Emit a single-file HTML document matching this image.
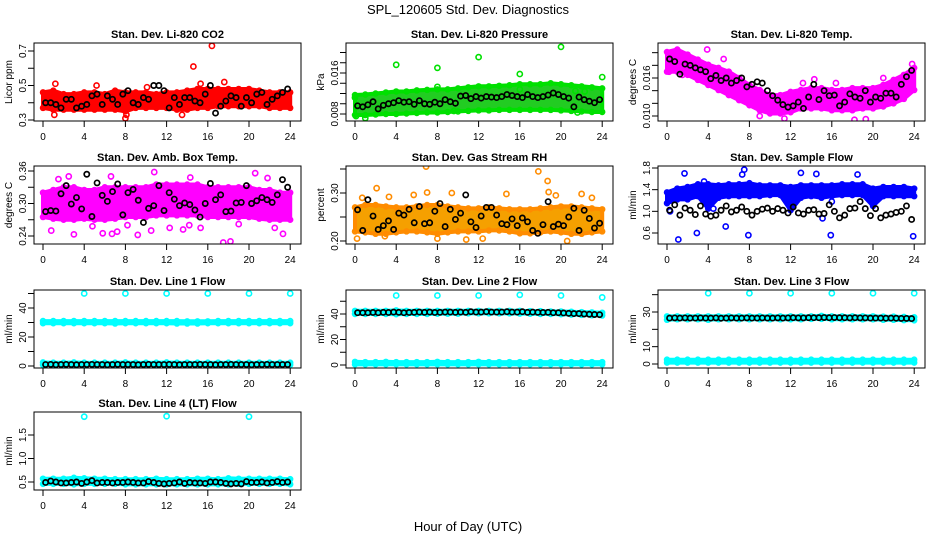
<!DOCTYPE html>
<html><head><meta charset="utf-8"><style>
html,body{margin:0;padding:0;background:#fff;}
svg{display:block;font-family:"Liberation Sans",sans-serif;}
</style></head><body>
<svg id="chart" width="936" height="540" viewBox="0 0 936 540" xmlns="http://www.w3.org/2000/svg">
<text x="468" y="14" text-anchor="middle" font-size="13">SPL_120605  Std. Dev. Diagnostics</text>
<text x="468" y="531" text-anchor="middle" font-size="13">Hour of Day (UTC)</text>
</svg>
<script>
// ---- data (hourly envelopes: 25 values at 0..24 h; black series: half-hourly) ----
const hoursTicks = [0,4,8,12,16,20,24];

const co2Hi = [0.46,0.47,0.45,0.45,0.46,0.46,0.45,0.47,0.46,0.46,0.46,0.45,0.46,0.46,0.47,0.48,0.48,0.48,0.48,0.48,0.48,0.47,0.46,0.46,0.46];
const co2Lo = [0.37,0.36,0.36,0.36,0.36,0.36,0.36,0.36,0.35,0.37,0.37,0.37,0.37,0.36,0.36,0.37,0.37,0.38,0.38,0.38,0.38,0.38,0.37,0.37,0.37];
const co2OutT = [1.2,5.2,8.0,8.1,14.6,16.4,15.3,17.6,1.1,13.5,10.1];
const co2OutV = [0.51,0.50,0.31,0.33,0.61,0.73,0.51,0.52,0.33,0.33,0.49];
const co2Black = [0.40,0.40,0.39,0.37,0.42,0.42,0.37,0.38,0.39,0.44,0.45,0.39,0.44,0.42,0.39,0.45,0.47,0.40,0.39,0.43,0.42,0.50,0.50,0.47,0.37,0.43,0.39,0.43,0.43,0.41,0.40,0.45,0.50,0.34,0.38,0.41,0.44,0.43,0.38,0.43,0.40,0.45,0.46,0.39,0.42,0.44,0.46,0.48];

const presHi = [0.0117,0.0118,0.0120,0.0122,0.0124,0.0124,0.0126,0.0127,0.0128,0.0128,0.0130,0.0132,0.0134,0.0134,0.0135,0.0136,0.0138,0.0138,0.0138,0.0140,0.0138,0.0136,0.0134,0.0132,0.0130];
const presLo = [0.0078,0.0078,0.0079,0.0080,0.0080,0.0081,0.0082,0.0083,0.0083,0.0084,0.0085,0.0086,0.0087,0.0087,0.0088,0.0088,0.0088,0.0088,0.0088,0.0088,0.0087,0.0086,0.0085,0.0084,0.0084];
const presOutT = [0,4,8,8,12,16,16,20,21.4,22.3,24,0.1,1,9.6,21.6];
const presOutV = [0.0112,0.0176,0.0170,0.0133,0.0191,0.0158,0.0128,0.0211,0.0125,0.0124,0.0152,0.0076,0.0072,0.0086,0.0083];
const presBlack = [0.0096,0.0094,0.0098,0.0104,0.0090,0.0097,0.0100,0.0102,0.0106,0.0103,0.0104,0.0099,0.0106,0.0100,0.0099,0.0103,0.0100,0.0108,0.0104,0.0101,0.0115,0.0116,0.0110,0.0114,0.0111,0.0114,0.0113,0.0112,0.0114,0.0118,0.0116,0.0114,0.0112,0.0118,0.0114,0.0112,0.0114,0.0117,0.0121,0.0118,0.0114,0.0111,0.0094,0.0113,0.0108,0.0105,0.0102,0.0108];

const tempHi = [0.0201,0.0205,0.0197,0.0189,0.0181,0.0176,0.0170,0.0160,0.0149,0.0141,0.0133,0.0133,0.0138,0.0141,0.0144,0.0144,0.0141,0.0141,0.0144,0.0144,0.0144,0.0149,0.0157,0.0165,0.0176];
const tempLo = [0.0170,0.0170,0.0165,0.0157,0.0149,0.0141,0.0133,0.0125,0.0117,0.0109,0.0104,0.0104,0.0106,0.0112,0.0112,0.0112,0.0109,0.0109,0.0109,0.0112,0.0112,0.0115,0.0120,0.0127,0.0141];
const tempOutT = [0.2,1.5,3.9,5.5,10.3,11.4,13.2,14.3,16.4,18.2,19.3,21.0,23.8,9.0];
const tempOutV = [0.0170,0.0165,0.0205,0.0190,0.0128,0.0096,0.0152,0.0158,0.0152,0.0094,0.0095,0.0160,0.0182,0.0100];
const tempBlack = [0.0190,0.0186,0.0166,0.0182,0.0180,0.0176,0.0173,0.0170,0.0159,0.0164,0.0156,0.0160,0.0152,0.0156,0.0160,0.0146,0.0150,0.0154,0.0152,0.0140,0.0132,0.0125,0.0118,0.0114,0.0116,0.0122,0.0112,0.0130,0.0150,0.0126,0.0140,0.0132,0.0133,0.0116,0.0122,0.0135,0.0130,0.0128,0.0140,0.0122,0.0130,0.0128,0.0136,0.0136,0.0130,0.0150,0.0162,0.0172];

const boxHi = [0.320,0.325,0.330,0.330,0.325,0.325,0.330,0.330,0.330,0.330,0.330,0.335,0.335,0.335,0.335,0.335,0.330,0.330,0.330,0.330,0.330,0.325,0.325,0.320,0.320];
const boxLo = [0.275,0.272,0.270,0.270,0.272,0.270,0.270,0.272,0.275,0.275,0.275,0.278,0.278,0.278,0.278,0.278,0.275,0.275,0.275,0.275,0.275,0.272,0.270,0.270,0.270];
const boxOutT = [0.8,3.0,4.8,5.8,6.7,7.2,9.2,10.5,10.8,12.3,13.6,14.3,15.3,17.5,18.2,20.6,21.8,23.3,2.5,6.6,22.5,14.2,8.2,1.5,19.0];
const boxOutV = [0.250,0.243,0.258,0.245,0.244,0.248,0.242,0.250,0.358,0.255,0.252,0.348,0.255,0.228,0.230,0.356,0.347,0.244,0.350,0.350,0.255,0.260,0.260,0.345,0.262];
const boxBlack = [0.285,0.287,0.286,0.318,0.333,0.299,0.311,0.290,0.354,0.276,0.338,0.315,0.304,0.322,0.336,0.279,0.320,0.326,0.306,0.265,0.291,0.296,0.333,0.287,0.320,0.308,0.296,0.301,0.298,0.288,0.275,0.300,0.337,0.307,0.316,0.285,0.286,0.301,0.302,0.333,0.300,0.305,0.311,0.307,0.302,0.316,0.344,0.330];

const rhHi = [0.270,0.275,0.275,0.272,0.270,0.270,0.272,0.275,0.275,0.272,0.270,0.268,0.268,0.270,0.268,0.266,0.266,0.266,0.268,0.270,0.272,0.272,0.270,0.268,0.266];
const rhLo = [0.220,0.218,0.215,0.215,0.218,0.220,0.220,0.218,0.215,0.218,0.220,0.220,0.220,0.222,0.222,0.220,0.216,0.216,0.218,0.220,0.218,0.215,0.215,0.218,0.220];
const rhOutT = [0.2,0.7,2.1,3.3,5.7,6.9,7.0,9.4,10.8,14.7,17.8,18.7,18.8,20.6,22.0,2.9,12.4,8.0,19.5,23.0];
const rhOutV = [0.205,0.290,0.310,0.292,0.296,0.355,0.301,0.300,0.203,0.298,0.345,0.325,0.302,0.200,0.298,0.210,0.205,0.205,0.295,0.290];
const rhBlack = [0.265,0.222,0.286,0.252,0.224,0.232,0.242,0.224,0.258,0.254,0.266,0.238,0.272,0.236,0.238,0.262,0.278,0.230,0.266,0.245,0.258,0.296,0.240,0.228,0.252,0.270,0.270,0.254,0.236,0.234,0.246,0.232,0.248,0.240,0.222,0.216,0.234,0.282,0.230,0.235,0.232,0.250,0.268,0.222,0.264,0.247,0.227,0.237];

const flowHi = [1.35,1.42,1.45,1.50,1.50,1.48,1.50,1.50,1.52,1.48,1.48,1.48,1.45,1.48,1.48,1.48,1.48,1.50,1.50,1.50,1.42,1.45,1.45,1.45,1.42];
const flowLo = [1.15,1.22,1.22,1.28,1.05,1.25,1.28,1.28,1.28,1.28,1.30,1.30,1.02,1.25,1.28,1.25,1.28,1.30,1.30,1.30,1.10,1.28,1.28,1.28,1.28];
const flowOutT = [1.1,1.7,2.9,3.6,5.7,7.3,7.5,7.9,13.0,14.5,15.1,15.9,16.0,18.5,23.9,0.3,4.5];
const flowOutV = [0.48,1.70,0.60,1.55,0.72,1.68,1.77,0.56,1.71,1.69,0.87,0.56,1.18,1.68,0.54,1.00,1.05];
const flowBlack = [1.02,1.12,0.93,1.06,1.02,0.94,1.10,0.95,0.91,0.93,1.02,1.10,0.99,1.02,1.08,1.00,0.93,1.00,1.04,1.06,1.00,1.05,1.02,0.97,1.08,0.97,0.95,1.02,1.03,0.95,0.96,1.12,1.00,0.88,0.93,1.05,1.06,1.18,1.05,0.92,1.05,0.88,0.93,0.95,0.98,1.00,1.10,0.85];

const l1Hi = [31.0,31.0,31.0,31.0,31.0,31.0,31.0,31.0,31.0,31.0,31.0,31.0,31.0,31.0,30.8,30.8,30.8,31.0,31.0,31.0,31.0,31.0,31.0,31.0,31.0];
const l1Lo = [29.5,29.5,29.5,29.5,29.5,29.5,29.5,29.3,29.5,29.5,29.5,29.5,29.5,29.3,29.3,29.3,29.5,29.5,29.5,29.5,29.5,29.5,29.5,29.5,29.5];
const l1LowHi = [2.5,2.3,2.3,2.5,2.3,2.3,2.3,2.3,2.5,2.3,2.3,2.3,2.5,2.3,2.3,2.3,2.3,2.3,2.3,2.3,2.3,2.3,2.3,2.3,2.3];
const l1LowLo = [0.8,0.8,0.8,0.8,0.8,0.8,0.8,0.8,0.8,0.8,0.8,0.8,0.8,0.8,0.8,0.8,0.8,0.8,0.8,0.8,0.8,0.8,0.8,0.8,0.8];
const l1OutT = [4,8,12,16,20,24];
const l1OutV = [50,50,50,50,50,50];
const l1Black = [1.0,1.1,0.9,1.0,1.1,1.0,0.9,1.0,1.0,1.1,1.0,1.0,0.9,1.0,1.1,1.0,1.0,1.0,0.9,1.0,1.1,1.0,1.0,1.0,1.1,1.0,0.9,1.0,1.0,1.0,1.1,1.0,1.0,0.9,1.0,1.0,1.1,1.0,1.0,1.0,0.9,1.0,1.0,1.1,1.0,1.0,1.0,1.0];

const l2Hi = [42.5,42.5,42.5,42.5,42.8,42.5,42.5,42.5,42.5,42.5,42.5,42.5,42.5,42.5,42.5,42.5,42.5,42.3,42.3,42.0,42.0,41.8,41.5,41.3,41.0];
const l2Lo = [40.0,40.0,40.0,40.0,39.8,40.0,40.0,40.0,40.2,40.2,40.2,40.5,40.5,40.5,40.5,40.5,40.3,40.2,40.0,40.0,39.8,39.5,39.3,39.0,38.8];
const l2LowHi = [2.5,2.3,2.3,2.5,2.3,2.3,2.3,2.3,2.5,2.3,2.3,2.3,2.5,2.3,2.3,2.3,2.3,2.3,2.3,2.3,2.3,2.3,2.3,2.3,2.3];
const l2LowLo = [0.5,0.5,0.5,0.5,0.5,0.5,0.5,0.5,0.5,0.5,0.5,0.5,0.5,0.5,0.5,0.5,0.5,0.5,0.5,0.5,0.5,0.5,0.5,0.5,0.5];
const l2OutT = [4,8,12,16,20,24];
const l2OutV = [54.5,54.5,54.5,55.0,54.5,53.0];
const l2Black = [41.0,41.0,41.0,41.2,41.0,41.3,41.2,41.5,41.3,41.0,41.2,41.3,41.5,41.3,41.5,41.2,41.3,41.5,41.5,41.3,41.5,41.3,41.8,41.5,41.5,41.8,41.5,41.5,41.5,41.8,41.5,41.5,41.8,41.3,41.5,41.3,41.2,41.3,41.0,41.0,40.8,40.5,40.3,40.3,40.0,39.8,39.6,39.5];

const l3Hi = [27.5,27.5,27.5,27.5,27.5,27.5,27.5,27.5,27.5,27.5,27.5,27.5,27.5,27.5,27.5,27.8,27.5,27.5,27.5,27.5,27.5,27.3,27.3,27.2,27.0];
const l3Lo = [25.5,25.8,25.8,25.8,25.5,25.8,25.8,25.8,25.8,25.8,25.8,25.8,25.8,25.8,26.0,26.0,25.8,25.8,25.8,25.8,25.8,25.5,25.5,25.3,25.2];
const l3LowHi = [2.5,2.5,2.5,2.5,2.5,2.5,2.5,2.5,2.5,2.5,2.5,2.5,2.5,2.5,2.5,2.5,2.5,2.5,2.5,2.5,2.5,2.5,2.5,2.5,2.5];
const l3LowLo = [0.8,0.8,0.8,0.8,0.8,0.8,0.8,0.8,0.8,0.8,0.8,0.8,0.8,0.8,0.8,0.8,0.8,0.8,0.8,0.8,0.8,0.8,0.8,0.8,0.8];
const l3OutT = [4,8,12,16,20,24];
const l3OutV = [40.8,40.8,40.8,40.8,40.8,40.8];
const l3Black = [26.5,26.6,26.5,26.6,26.5,26.5,26.6,26.5,26.5,26.6,26.4,26.5,26.6,26.5,26.5,26.6,26.5,26.5,26.6,26.5,26.5,26.6,26.5,26.6,26.7,26.6,26.6,26.7,26.7,26.7,26.8,26.7,26.8,26.7,26.7,26.6,26.7,26.6,26.6,26.5,26.5,26.5,26.4,26.5,26.4,26.3,26.3,26.2];

const l4Hi = [0.57,0.57,0.57,0.59,0.58,0.57,0.57,0.56,0.56,0.56,0.56,0.57,0.56,0.56,0.56,0.57,0.57,0.56,0.58,0.57,0.57,0.57,0.57,0.57,0.56];
const l4Lo = [0.46,0.46,0.46,0.45,0.46,0.46,0.46,0.46,0.45,0.45,0.45,0.45,0.45,0.45,0.45,0.45,0.45,0.45,0.45,0.46,0.46,0.46,0.46,0.46,0.45];
const l4OutT = [4,12,20];
const l4OutV = [1.89,1.90,1.89];
const l4Black = [0.49,0.52,0.50,0.48,0.48,0.49,0.50,0.47,0.50,0.53,0.48,0.49,0.49,0.48,0.49,0.49,0.50,0.49,0.48,0.48,0.51,0.49,0.47,0.46,0.47,0.48,0.50,0.47,0.49,0.48,0.48,0.47,0.50,0.50,0.49,0.47,0.46,0.47,0.46,0.51,0.49,0.49,0.50,0.48,0.49,0.51,0.49,0.50];

const panelTitles = ["Stan. Dev. Li-820 CO2","Stan. Dev. Li-820 Pressure","Stan. Dev. Li-820 Temp.","Stan. Dev. Amb. Box Temp.","Stan. Dev. Gas Stream RH","Stan. Dev. Sample Flow","Stan. Dev. Line 1 Flow","Stan. Dev. Line 2 Flow","Stan. Dev. Line 3 Flow","Stan. Dev. Line 4 (LT) Flow"];
const yTitles = ["Licor ppm","kPa","degrees C","degrees C","percent","ml/min","ml/min","ml/min","ml/min","ml/min"];

// ---- layout / drawing ----
const NS = "http://www.w3.org/2000/svg";
const svg = document.getElementById("chart");
const BW = 267, BH = 78;
const colLeft = [34, 346, 658];
const rowTop = [43, 166, 290, 412];

function mk(tag, attrs, parent){
  const e = document.createElementNS(NS, tag);
  for (const k in attrs) e.setAttribute(k, attrs[k]);
  (parent||svg).appendChild(e);
  return e;
}

const panels = [
 {c:0,r:0,a:[0.3,120],b:[0.7,51],ticks:[0.3,0.4,0.5,0.6,0.7],labels:[0.3,0.5,0.7],fmt:1,
  color:"#ff0000",fill:"#ff0000",hi:co2Hi,lo:co2Lo,ot:co2OutT,ov:co2OutV,blk:co2Black},
 {c:1,r:0,a:[0.008,114],b:[0.016,73],ticks:[0.008,0.010,0.012,0.014,0.016,0.018,0.020],labels:[0.008,0.016],fmt:3,
  color:"#00e000",fill:"#22cc22",hi:presHi,lo:presLo,ot:presOutT,ov:presOutV,blk:presBlack},
 {c:2,r:0,a:[0.010,116],b:[0.016,78],ticks:[0.010,0.012,0.014,0.016,0.018,0.020],labels:[0.010,0.016],fmt:3,
  color:"#ff00ff",fill:"#ff00ff",hi:tempHi,lo:tempLo,ot:tempOutT,ov:tempOutV,blk:tempBlack},
 {c:0,r:1,a:[0.24,236],b:[0.36,171],ticks:[0.24,0.27,0.30,0.33,0.36],labels:[0.24,0.30,0.36],fmt:2,
  color:"#ff00ff",fill:"#ff00ff",hi:boxHi,lo:boxLo,ot:boxOutT,ov:boxOutV,blk:boxBlack},
 {c:1,r:1,a:[0.20,241],b:[0.30,193],ticks:[0.20,0.25,0.30,0.35],labels:[0.20,0.30],fmt:2,
  color:"#ff8c00",fill:"#f5a000",hi:rhHi,lo:rhLo,ot:rhOutT,ov:rhOutV,blk:rhBlack},
 {c:2,r:1,a:[0.6,233],b:[1.8,168],ticks:[0.6,1.0,1.4,1.8],labels:[0.6,1.0,1.4,1.8],fmt:1,
  color:"#0000ff",fill:"#0000ff",hi:flowHi,lo:flowLo,ot:flowOutT,ov:flowOutV,blk:flowBlack},
 {c:0,r:2,a:[0,366],b:[40,308],ticks:[0,10,20,30,40,50],labels:[0,20,40],fmt:0,
  color:"#00ffff",fill:"#00eeee",hi:l1Hi,lo:l1Lo,hi2:l1LowHi,lo2:l1LowLo,ot:l1OutT,ov:l1OutV,blk:l1Black},
 {c:1,r:2,a:[0,365],b:[40,314],ticks:[0,10,20,30,40,50],labels:[0,20,40],fmt:0,
  color:"#00ffff",fill:"#00eeee",hi:l2Hi,lo:l2Lo,hi2:l2LowHi,lo2:l2LowLo,ot:l2OutT,ov:l2OutV,blk:l2Black},
 {c:2,r:2,a:[0,364],b:[30,312],ticks:[0,10,20,30,40],labels:[0,10,30],fmt:0,
  color:"#00ffff",fill:"#00eeee",hi:l3Hi,lo:l3Lo,hi2:l3LowHi,lo2:l3LowLo,ot:l3OutT,ov:l3OutV,blk:l3Black},
 {c:0,r:3,a:[0.5,482],b:[1.5,435],ticks:[0.5,1.0,1.5],labels:[0.5,1.0,1.5],fmt:1,
  color:"#00ffff",fill:"#00eeee",hi:l4Hi,lo:l4Lo,ot:l4OutT,ov:l4OutV,blk:l4Black}
];

panels.forEach(function(p, i){
  const L = colLeft[p.c], T = rowTop[p.r];
  const xs = function(t){ return L + 9 + t * 10.3; };
  const ys = function(v){ return p.a[1] + (v - p.a[0]) * (p.b[1] - p.a[1]) / (p.b[0] - p.a[0]); };
  const g = mk("g", {});
  
  
  const clipId = "clip" + i;
  const cp = mk("clipPath", {id: clipId}, g);
  mk("rect", {x: L, y: T, width: BW, height: BH}, cp);
  const marks = mk("g", {"clip-path": "url(#" + clipId + ")"}, g);
  
  

  function band(hi, lo, nm){
    const n = hi.length, step = 24 / (n - 1);
    let pts = [];
    for (let k = 0; k < n; k++) pts.push(xs(k*step).toFixed(1) + "," + ys(hi[k]).toFixed(1));
    for (let k = n-1; k >= 0; k--) pts.push(xs(k*step).toFixed(1) + "," + ys(lo[k]).toFixed(1));
    const poly = mk("polygon", {points: pts.join(" "), fill: p.fill, stroke: p.color, "stroke-width": 4, "stroke-linejoin": "round"}, marks);
    
    
    for (let k = 0; k < n; k++) {
      [hi[k], lo[k]].forEach(function(v){
        const c = mk("circle", {cx: xs(k*step), cy: ys(v), r: 2.5, fill: "none", stroke: p.color, "stroke-width": 1.5}, marks);
        
        
      });
    }
  }
  band(p.hi, p.lo, 'color-series-band');
  if (p.hi2) band(p.hi2, p.lo2, 'color-series-low-band');
  for (let k = 0; k < p.ot.length; k++) {
    const c = mk("circle", {cx: xs(p.ot[k]), cy: ys(p.ov[k]), r: 2.6, fill: "none", stroke: p.color, "stroke-width": 1.6}, marks);
    
    
  }
  for (let k = 0; k < p.blk.length; k++) {
    const t = (k + 0.5) * 24 / p.blk.length;
    const c = mk("circle", {cx: xs(t), cy: ys(p.blk[k]), r: 2.6, fill: "none", stroke: "#000", "stroke-width": 1.7}, marks);
    
    
  }

  const box = mk("rect", {x: L, y: T, width: BW, height: BH, fill: "none", stroke: "#000", "stroke-width": 1}, g);
  
  

  const ttl = mk("text", {x: L + BW/2, y: T - 5, "text-anchor": "middle", "font-size": 11, "font-weight": "bold"}, g);
  ttl.textContent = panelTitles[i];
  
  

  const yt = mk("text", {transform: "translate(" + (L-22) + "," + (T+BH/2) + ") rotate(-90)", "text-anchor": "middle", "font-size": 10}, g);
  yt.textContent = yTitles[i];
  
  

  p.ticks.forEach(function(v){
    const y = ys(v);
    const tk = mk("line", {x1: L-6, x2: L, y1: y, y2: y, stroke: "#000", "stroke-width": 1}, g);
    
    
  });
  p.labels.forEach(function(v){
    const y = ys(v);
    const tl = mk("text", {transform: "translate(" + (L-8) + "," + y + ") rotate(-90)", "text-anchor": "middle", "font-size": 10}, g);
    tl.textContent = v.toFixed(p.fmt);
    
    
  });
  hoursTicks.forEach(function(h){
    const x = xs(h);
    const tk = mk("line", {x1: x, x2: x, y1: T+BH, y2: T+BH+6, stroke: "#000", "stroke-width": 1}, g);
    
    
    const tl = mk("text", {x: x, y: T+BH+19, "text-anchor": "middle", "font-size": 10}, g);
    tl.textContent = String(h);
    
    
  });
});
</script>
</body></html>
